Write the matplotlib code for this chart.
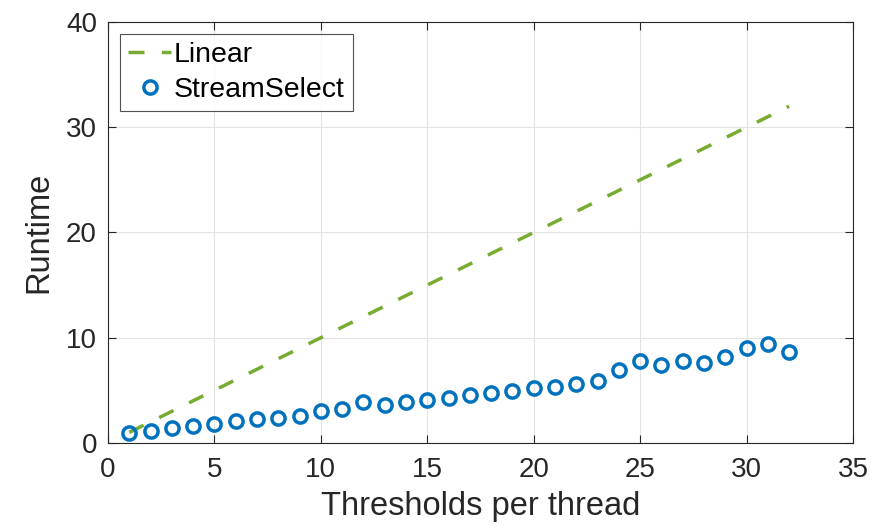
import numpy as np
import matplotlib
matplotlib.use("Agg")
import matplotlib.pyplot as plt

plt.rcParams['font.family'] = ['Liberation Sans', 'DejaVu Sans']

threads = list(range(1, 33))
linear = list(range(1, 33))
stream_select = [0.94, 1.13, 1.42, 1.58, 1.76, 2.08, 2.24, 2.40, 2.58, 3.02,
                 3.21, 3.90, 3.62, 3.84, 4.12, 4.25, 4.60, 4.75, 4.97, 5.22,
                 5.35, 5.60, 5.85, 6.95, 7.74, 7.45, 7.80, 7.61, 8.18, 9.00,
                 9.38, 8.68]

fig = plt.figure(figsize=(8.94, 5.26), dpi=100)
ax = fig.add_axes([0.1208, 0.158, 0.8333, 0.8])

ax.plot(threads, linear, '--', color='#77AC30', linewidth=2.5,
        dashes=(4.6, 5.0), label='Linear')
ax.plot(threads, stream_select, 'o', color='#0072BD', markersize=9.5,
        markerfacecolor='none', markeredgewidth=2.5, linestyle='none',
        label='StreamSelect')

ax.set_xlim(0, 35)
ax.set_ylim(0, 40)
ax.set_xticks(np.arange(0, 36, 5))
ax.set_yticks(np.arange(0, 41, 10))
ax.grid(True, color='#e3e3e3', linewidth=0.8)
ax.set_axisbelow(True)
ax.tick_params(direction='in', length=6, width=0.8, labelsize=20,
               top=True, right=True, colors='#262626')
ax.tick_params(axis='x', pad=10)
ax.tick_params(axis='y', pad=8)
for s in ax.spines.values():
    s.set_color('#262626')
    s.set_linewidth(0.8)

ax.set_xlabel('Thresholds per thread', fontsize=23.5, color='#262626', labelpad=6)
ax.set_ylabel('Runtime', fontsize=23.5, color='#262626', labelpad=8)

leg = ax.legend(loc='upper left', fontsize=20.5, frameon=True, fancybox=False,
                handlelength=1.5, handletextpad=0.1, borderpad=0.28,
                labelspacing=0.3, borderaxespad=0.43)
leg.get_frame().set_edgecolor('#262626')
leg.get_frame().set_linewidth(0.8)

fig.savefig('out.png', dpi=100)
